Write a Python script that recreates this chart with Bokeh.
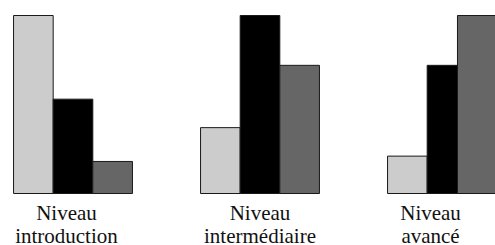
from bokeh.plotting import figure
from bokeh.models import Range1d, ColumnDataSource
from bokeh.core.properties import value
from bokeh.embed import file_html
from bokeh.resources import INLINE

# ---- data ----
levels = ["introduction", "intermédiaire", "avancé"]
label_line1 = ["Niveau", "Niveau", "Niveau"]
label_line2 = ["introduction", "intermédiaire", "avancé"]
series_a = [100, 37, 21]   # light grey
series_b = [53, 100, 72]   # black
series_c = [18, 72, 100]   # dark grey

# ---- layout / style ----
W, H = 495, 245
PX = 187.0          # pixels per group step
PY = 1.78           # pixels per value unit
bar_w = 0.212
group_pos = list(range(len(levels)))
shift_c = [0.0, 0.0, -0.05]
label_shift = [-0.035, 0.0, -0.088]
y_line1, y_line2 = -11.1, -23.6

x0 = -72.5 / PX
y_top = 100 + 15 / PY
y_bot = -(H - 193) / PY

p = figure(width=W, height=H, output_backend="svg", toolbar_location=None,
           x_range=Range1d(x0, x0 + W / PX),
           y_range=Range1d(y_bot, y_top),
           min_border=0, outline_line_color=None)
p.axis.visible = False
p.grid.visible = False
p.background_fill_color = "white"
p.border_fill_color = "white"

cols = [("#cccccc", series_a, [0.0] * 3, -1),
        ("#000000", series_b, [0.0] * 3, 0),
        ("#666666", series_c, shift_c, 1)]
for color, vals, sh, k in cols:
    xs = [g + k * bar_w + s for g, s in zip(group_pos, sh)]
    src = ColumnDataSource(dict(x=xs, top=vals))
    p.vbar(x="x", top="top", bottom=0, width=bar_w, source=src,
           fill_color=color, line_color="#1a1a1a", line_width=1)

for g, s, t1, t2 in zip(group_pos, label_shift, label_line1, label_line2):
    for yy, tt in ((y_line1, t1), (y_line2, t2)):
        p.text(x=[g + s], y=[yy], text=[tt], text_align="center",
               text_baseline="alphabetic",
               text_font=value("Liberation Serif"),
               text_font_size="21px", text_color="#111111")

open("out.html", "w").write(file_html(p, INLINE))
